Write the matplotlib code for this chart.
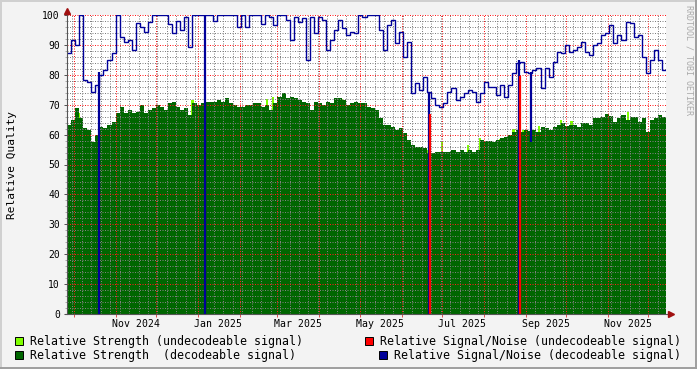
import numpy as np
import pandas as pd
import matplotlib
matplotlib.use("Agg")
import matplotlib.pyplot as plt
import matplotlib.dates as mdates
from matplotlib.ticker import MultipleLocator
from matplotlib.patches import Rectangle
from matplotlib.lines import Line2D

# === Data: one value per 3-day step, starting 2024-09-26 ===
START = "2024-09-26"
STEP = "3D"

strength = [
    63.2, 64.9, 68.8, 65.4, 62.1, 61.5, 57.6, 59.9, 62.7, 62.1,
    63.2, 64.3, 67.1, 69.3, 67.1, 68.2, 67.1, 67.7, 69.9, 67.1,
    68.2, 68.8, 69.9, 69.3, 68.2, 70.5, 71.0, 69.3, 68.2, 68.8,
    66.6, 70.5, 69.9, 70.5, 71.0, 71.0, 71.0, 71.6, 71.0, 72.1,
    70.5, 69.9, 69.3, 69.3, 69.9, 69.9, 70.5, 70.5, 69.3, 69.9,
    68.2, 70.5, 72.7, 73.8, 72.1, 72.7, 72.1, 71.6, 71.0, 70.5,
    68.2, 71.0, 70.5, 69.9, 71.0, 70.5, 72.1, 72.1, 71.6, 69.9,
    70.5, 71.0, 70.5, 70.5, 69.3, 68.8, 68.2, 65.4, 63.2, 63.2,
    62.7, 61.5, 62.1, 60.4, 58.2, 56.5, 56.0, 56.0, 55.4, 54.0,
    53.7, 54.3, 54.3, 54.3, 54.3, 54.8, 54.3, 54.8, 54.3, 54.8,
    54.3, 54.8, 58.2, 58.0, 58.0, 57.6, 58.2, 58.8, 59.3, 59.9,
    61.0, 61.5, 61.0, 61.5, 61.3, 61.5, 61.0, 62.7, 62.1, 61.5,
    62.7, 63.2, 63.8, 62.9, 63.2, 63.2, 62.7, 63.8, 64.0, 63.2,
    65.4, 65.4, 66.0, 66.9, 66.2, 64.3, 65.4, 66.6, 64.9, 66.0,
    66.0, 64.3, 65.4, 61.0, 64.9, 65.4, 66.6, 66.0,
]

snr = [
    87.2, 91.6, 90.0, 100, 78.3, 77.7, 74.4, 76.6, 79.9, 81.6,
    85.0, 87.2, 100, 92.8, 91.0, 91.6, 88.3, 97.2, 96.1, 94.4,
    97.8, 100, 100, 100, 100, 97.0, 94.0, 98.0, 95.0, 99.4,
    89.4, 100, 100, 100, 100, 100, 98.0, 100, 100, 100,
    100, 100, 96.0, 100, 96.0, 100, 100, 100, 97.0, 100,
    99.4, 96.7, 100, 100, 98.3, 91.6, 99.4, 97.8, 98.9, 85.0,
    99.4, 93.9, 99.4, 98.3, 88.3, 91.6, 95.0, 98.3, 95.5, 93.3,
    94.4, 93.9, 100, 99.4, 100, 100, 100, 95.0, 88.3, 96.7,
    98.3, 90.5, 94.4, 86.0, 91.0, 73.8, 77.1, 74.9, 79.4, 74.4,
    72.1, 69.9, 69.3, 70.5, 74.4, 75.5, 71.6, 72.7, 73.8, 74.9,
    74.4, 71.0, 73.8, 77.7, 76.0, 76.0, 73.2, 76.6, 72.7, 76.6,
    80.5, 83.8, 84.4, 81.0, 80.5, 81.6, 82.2, 75.5, 82.2, 79.4,
    84.4, 87.7, 87.2, 90.0, 87.7, 88.3, 89.4, 91.1, 87.7, 86.6,
    90.0, 90.5, 93.3, 93.9, 96.7, 90.5, 93.3, 91.6, 97.8, 97.2,
    92.8, 93.3, 86.0, 80.5, 85.0, 88.3, 85.0, 81.6,
]

# short drops of the decodeable S/N line
drop_dates = ["2024-10-20", "2025-01-06", "2025-06-21", "2025-08-27", "2025-09-05"]
drop_low = [0, 0, 0, 0, 57.6]
drop_high = [81, 100, 74.4, 85, 81]

# undecodeable signal/noise
bad_snr_dates = ["2025-06-22", "2025-08-28"]
bad_snr_vals = [67, 79.5]

# undecodeable strength (mostly peeks over the decodeable area)
bad_str_dates = ["2024-10-05", "2024-12-28", "2025-02-21", "2025-02-26", "2025-04-18",
                 "2025-06-21", "2025-07-01", "2025-07-20", "2025-07-29", "2025-08-13",
                 "2025-08-23", "2025-08-30", "2025-09-11", "2025-09-27", "2025-10-05",
                 "2025-11-16"]
bad_str_vals = [67.1, 71.6, 72.0, 72.5, 72.0, 55.0, 57.6, 56.5, 58.7, 58.5,
                62.0, 61.7, 63.0, 65.0, 64.5, 67.5]

x_labels = ["Nov 2024", "Jan 2025", "Mar 2025", "May 2025", "Jul 2025", "Sep 2025", "Nov 2025"]
label_dates = ["2024-11-16", "2025-01-16", "2025-03-16", "2025-05-16",
               "2025-07-16", "2025-09-16", "2025-11-16"]

legend_items = [
    ("Relative Strength (undecodeable signal)", "#80FF00"),
    ("Relative Signal/Noise (undecodeable signal)", "#FF0000"),
    ("Relative Strength  (decodeable signal)", "#006600"),
    ("Relative Signal/Noise (decodeable signal)", "#000099"),
]

# === Figure ===
W, H = 697, 369
BG = "#F3F3F3"
MONO = "DejaVu Sans Mono"

edges = mdates.date2num(pd.date_range(START, periods=len(strength) + 1, freq=STEP))
to_num = lambda ds: mdates.date2num(pd.to_datetime(ds))

fig = plt.figure(figsize=(W / 100, H / 100), dpi=100, facecolor=BG)
ax = fig.add_axes([67 / W, 55 / H, 599 / W, 299 / H])
ax.set_facecolor("white")

ax.bar(to_num(bad_str_dates), bad_str_vals, width=1.6, color="#80FF00", zorder=0.9)
ax.stairs(strength, edges, fill=True, baseline=0, color="#006600", lw=0, zorder=1)
ax.stairs(snr, edges, baseline=None, color="#000099", lw=1.0, zorder=3)
ax.vlines(to_num(drop_dates), drop_low, drop_high, color="#000099", lw=1.6, zorder=3)
ax.vlines(to_num(bad_snr_dates), 0, bad_snr_vals, color="#FF0000", lw=1.6, zorder=3.1)

ax.set_xlim(edges[0], edges[-1])
ax.set_ylim(0, 100)

# grid (dotted, drawn over the areas like rrdtool does)
ax.yaxis.set_major_locator(MultipleLocator(10))
ax.yaxis.set_minor_locator(MultipleLocator(2))
ax.xaxis.set_major_locator(mdates.MonthLocator())
ax.xaxis.set_minor_locator(mdates.WeekdayLocator(byweekday=mdates.MO))
ax.set_axisbelow(False)
ax.grid(which="major", color=(1.0, 0.1, 0.1, 0.25), lw=0.72, ls=(0, (1, 1.5)))
ax.grid(which="minor", color=(0.5, 0.5, 0.5, 0.22), lw=0.72, ls=(0, (1, 1.5)))

ax.tick_params(axis="x", which="major", direction="out", length=2.2, width=0.72,
               color="#E05050", labelbottom=False)
ax.tick_params(axis="x", which="minor", length=0)
ax.tick_params(axis="y", which="major", direction="out", length=2.2, width=0.72,
               color="#555555", labelsize=7, pad=2.9)
ax.tick_params(axis="y", which="minor", direction="out", length=1.4, width=0.72,
               color="#AAAAAA")
for lab in ax.get_yticklabels():
    lab.set_fontfamily(MONO)

for d, t in zip(label_dates, x_labels):
    ax.text(to_num(d), -10 / 299, t, transform=ax.get_xaxis_transform(),
            ha="center", va="center", fontsize=7.1, family=MONO)

for s in ax.spines.values():
    s.set_visible(False)

# axis lines with arrows
ax.plot([0, 0], [0, 1.012], transform=ax.transAxes, clip_on=False, color="#555555", lw=0.8, zorder=4)
ax.plot([-0.004, 1.006], [0, 0], transform=ax.transAxes, clip_on=False, color="#555555", lw=0.8, zorder=4)
ax.plot(0, 1.012, marker="^", ms=4, color="#A01010", transform=ax.transAxes, clip_on=False, zorder=5)
ax.plot(1.008, 0, marker=">", ms=4, color="#A01010", transform=ax.transAxes, clip_on=False, zorder=5)

# texts
fig.text(12 / W, 1 - 165 / H, "Relative Quality", rotation=90, ha="center", va="center",
         fontsize=8, family=MONO)
fig.text(688.5 / W, 1 - 60 / H, "RRDTOOL / TOBI OETIKER", rotation=270, ha="center",
         va="center", fontsize=6, family=MONO, color="#AAAAAA")

# legend
rows = [(15, 30, 341), (365, 380, 341), (15, 30, 355), (379, 394, 355)]
for (sx, tx, cy), (label, col) in zip(rows, legend_items):
    fig.add_artist(Rectangle((sx / W, 1 - (cy + 4) / H), 8 / W, 8 / H, transform=fig.transFigure,
                             facecolor=col, edgecolor="black", lw=0.7))
    fig.text(tx / W, 1 - cy / H, label, ha="left", va="center", fontsize=8.35, family=MONO)

# canvas border
fig.add_artist(Line2D([0, 1], [1 - 1 / H, 1 - 1 / H], transform=fig.transFigure, color="#D0D0D0", lw=1.4))
fig.add_artist(Line2D([1 / W, 1 / W], [0, 1], transform=fig.transFigure, color="#D0D0D0", lw=1.4))
fig.add_artist(Line2D([0, 1], [1 / H, 1 / H], transform=fig.transFigure, color="#9E9E9E", lw=1.4))
fig.add_artist(Line2D([1 - 1 / W, 1 - 1 / W], [0, 1], transform=fig.transFigure, color="#9E9E9E", lw=1.4))

fig.savefig("out.png", dpi=100, facecolor=BG)
